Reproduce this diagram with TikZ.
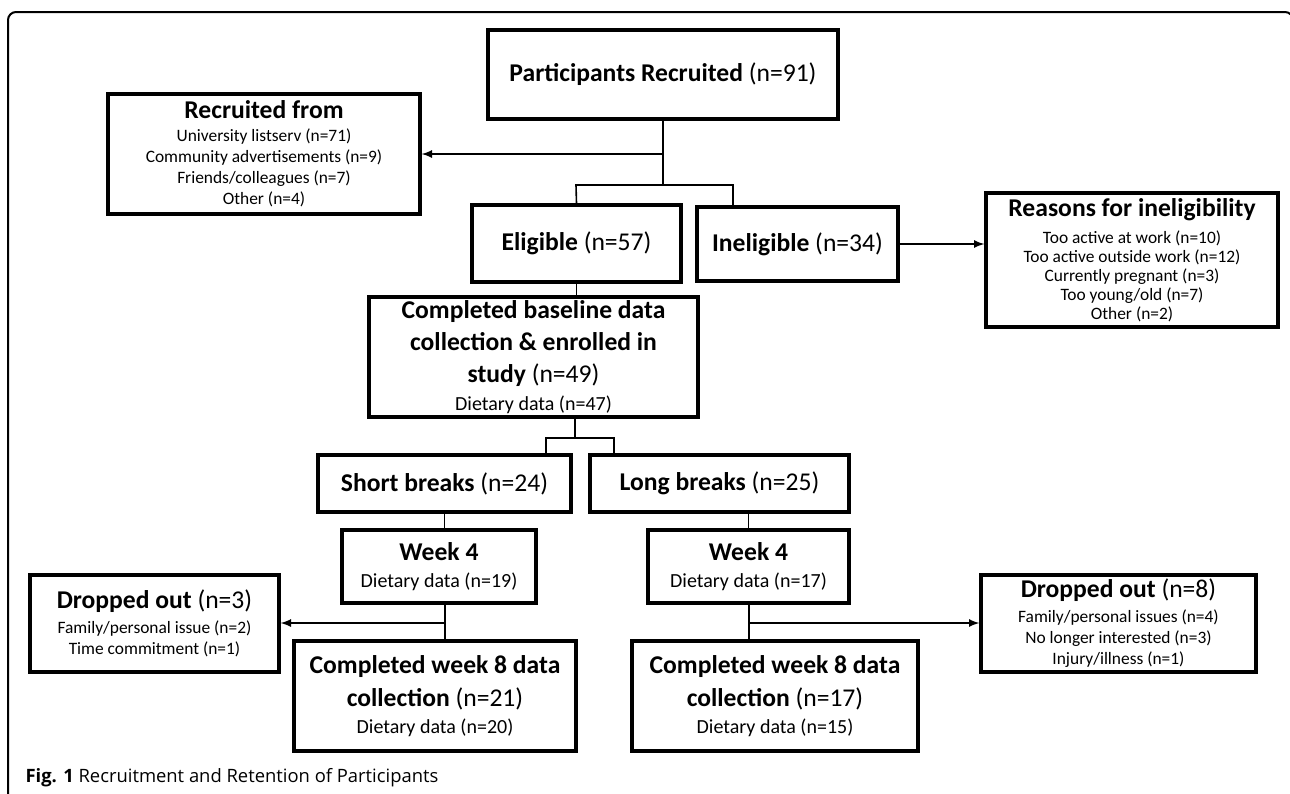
\documentclass[tikz,border=0pt]{standalone}
\usepackage{fontspec}
\setmainfont{Carlito}
\newfontfamily\capfont{Open Sans}
\usepackage{tikz}
\usetikzlibrary{positioning}

\begin{document}
\begin{tikzpicture}[x=0.5pt, y=-0.5pt,
    every node/.style={draw, line width=1.6pt, align=center, inner sep=0pt,
      font=\fontsize{12.8}{15.5}\selectfont},
    list/.style={font=\fontsize{8.7}{10.5}\selectfont},
    diet/.style={font=\fontsize{10}{12}\selectfont}]

    \useasboundingbox (0,0) rectangle (1290,793);
    \clip (0,0) rectangle (1290,793);

    % Frame
    \draw[line width=1pt, rounded corners=4pt] (8,820) -- (8,12) -- (1293,12) -- (1293,820);

    % Nodes
    \node[minimum width=175pt, minimum height=44.5pt] (rec) at (663,74.5)
      {\textbf{Participants Recruited} (n=91)};
    \node[list, minimum width=156pt, minimum height=60pt] (src) at (264,154)
      {{\fontsize{12.8}{15}\selectfont\textbf{Recruited from}}\\[1pt]
       University listserv (n=71)\\ Community advertisements (n=9)\\
       Friends/colleagues (n=7)\\ Other (n=4)};
    \node[minimum width=104.5pt, minimum height=38.5pt] (elig) at (576.5,243.5)
      {\textbf{Eligible} (n=57)};
    \node[minimum width=100.5pt, minimum height=37pt] (inel) at (797.5,244)
      {\textbf{Ineligible} (n=34)};
    \node[font=\fontsize{8.7}{9.5}\selectfont, minimum width=146pt, minimum height=67pt] (why) at (1132,260)
      {{\fontsize{12.8}{15}\selectfont\textbf{Reasons for ineligibility}}\\[4pt]
       Too active at work (n=10)\\ Too active outside work (n=12)\\
       Currently pregnant (n=3)\\ Too young/old (n=7)\\ Other (n=2)};
    \node[font=\fontsize{12.8}{16}\selectfont, minimum width=164.5pt, minimum height=60pt] (base) at (533.5,357)
      {\textbf{Completed baseline data}\\ \textbf{collection \& enrolled in}\\
       \textbf{study} (n=49)\\[-2pt] {\fontsize{10}{12}\selectfont Dietary data (n=47)}};
    \node[minimum width=126.5pt, minimum height=28.5pt] (short) at (444.5,483.5)
      {\textbf{Short breaks} (n=24)};
    \node[minimum width=129.5pt, minimum height=28.5pt] (long) at (719.5,483.5)
      {\textbf{Long breaks} (n=25)};
    \node[minimum width=97pt, minimum height=36.5pt] (wkS) at (439,566.5)
      {\textbf{Week 4}\\[-2pt] {\fontsize{10}{12}\selectfont Dietary data (n=19)}};
    \node[minimum width=100.5pt, minimum height=36.5pt] (wkL) at (748.5,566.5)
      {\textbf{Week 4}\\[-2pt] {\fontsize{10}{12}\selectfont Dietary data (n=17)}};
    \node[list, minimum width=124.5pt, minimum height=48.5pt] (outS) at (154.5,623.5)
      {{\fontsize{12.8}{15}\selectfont\textbf{Dropped out} (n=3)}\\[2pt]
       Family/personal issue (n=2)\\ Time commitment (n=1)};
    \node[list, minimum width=137.5pt, minimum height=48.5pt] (outL) at (1118.5,623.5)
      {{\fontsize{12.8}{15}\selectfont\textbf{Dropped out} (n=8)}\\[2pt]
       Family/personal issues (n=4)\\ No longer interested (n=3)\\ Injury/illness (n=1)};
    \node[minimum width=141pt, minimum height=55pt] (endS) at (435,696)
      {\textbf{Completed week 8 data}\\[1pt] \textbf{collection} (n=21)\\[-2pt]
       {\fontsize{10}{12}\selectfont Dietary data (n=20)}};
    \node[minimum width=143pt, minimum height=55pt] (endL) at (775,696)
      {\textbf{Completed week 8 data}\\[1pt] \textbf{collection} (n=17)\\[-2pt]
       {\fontsize{10}{12}\selectfont Dietary data (n=15)}};
    \node[draw=none, anchor=west, font=\capfont\fontsize{9.2}{11}\selectfont] (cap) at (24,778)
      {\textbf{Fig. 1} Recruitment and Retention of Participants};

    % Junctions
    \coordinate (j1) at (663,154);
    \coordinate (j2) at (663,185);
    \coordinate (b1) at (576,185);
    \coordinate (b2) at (733,185);
    \coordinate (j3) at (575,438);
    \coordinate (b3) at (546,438);
    \coordinate (b4) at (614,438);
    \coordinate (j4) at (445,623);
    \coordinate (j5) at (749,623);

    % Edges
    \draw[thick] (rec) -- (j2);
    \draw[thick, -latex] (j1) -- (src);
    \draw[thick] (elig.north) -- (b1) -- (b2) -- (b2 |- inel.north);
    \draw[thick, -latex] (inel.east) -- (inel.east -| why.west);
    \draw[thick] (elig.south) -- (elig.south |- base.north);
    \draw[thick] (j3 |- base.south) -- (j3);
    \draw[thick] (b3 |- short.north) -- (b3) -- (b4) -- (b4 |- long.north);
    \draw[thick] (short.south) -- (short.south |- wkS.north);
    \draw[thick] (wkL.north) -- (wkL.north |- long.south);
    \draw[thick] (j4 |- wkS.south) -- (j4 |- endS.north);
    \draw[thick] (j5 |- wkL.south) -- (j5 |- endL.north);
    \draw[thick, -latex] (j4) -- (j4 -| outS.east);
    \draw[thick, -latex] (j5) -- (j5 -| outL.west);
\end{tikzpicture}
\end{document}
